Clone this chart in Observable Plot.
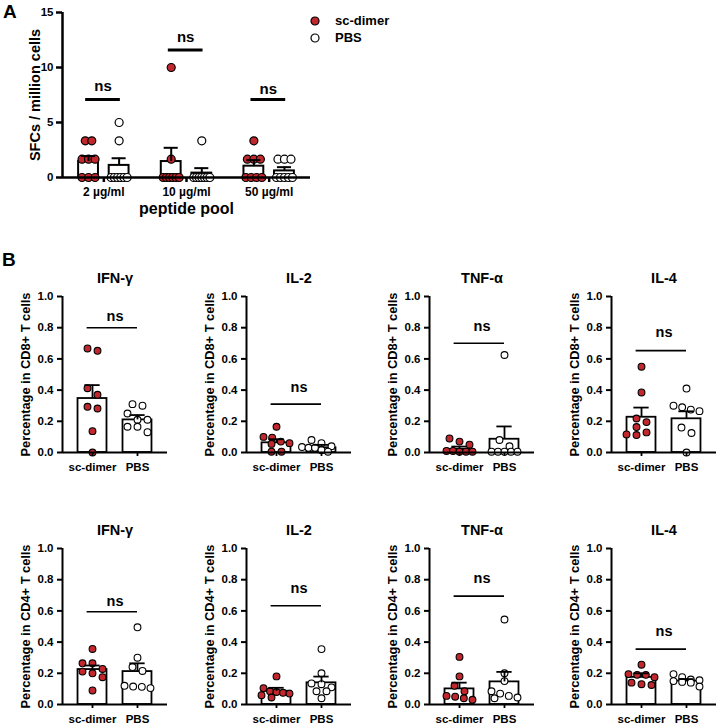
<!DOCTYPE html>
<html><head><meta charset="utf-8">
<script src="https://cdn.jsdelivr.net/npm/d3@7"></script>
<script src="https://cdn.jsdelivr.net/npm/@observablehq/plot@0.6"></script>
<style>
body{margin:0;background:#fff;}
#root{position:relative;width:719px;height:725px;overflow:hidden;font-family:"Liberation Sans",Arial,Helvetica,sans-serif;font-weight:bold;color:#000;}
.abs{position:absolute;}
svg{overflow:visible;}
</style></head><body><div id="root"></div>
<script>
// ---------- Panel A data ----------
const doses = ["2 µg/ml", "10 µg/ml", "50 µg/ml"];
const groups = ["sc-dimer", "PBS"];
const sfcScDimer = [[3.33,3.33,1.67,1.67,1.67,0,0,0],[10,1.67,0,0,0,0,0,0],[3.33,1.67,1.67,1.67,0,0,0,0]];
const sfcPbs = [[5,3.33,0,0,0,0,0,0],[3.33,0,0,0,0,0,0,0],[1.67,1.67,1.67,0,0,0,0,0]];
const sfcMeanSc = [1.45, 1.45, 1.03];
const sfcSemSc = [0.5, 1.25, 0.55];
const sfcMeanPbs = [1.1, 0.4, 0.6];
const sfcSemPbs = [0.65, 0.45, 0.34];
const sfcNs = [7.1, 11.6, 7.1];
const sfcNsLabel = [8.3, 12.8, 8.0];
const sfcTicks = [0, 5, 10, 15];

// ---------- Panel B data ----------
const cytokines = ["IFN-γ", "IL-2", "TNF-α", "IL-4"];
const cellTypes = ["CD8+", "CD4+"];
const pctTicks = [0, 0.2, 0.4, 0.6, 0.8, 1.0];
const cd8Sc = [
  [0.667,0.652,0.412,0.37,0.293,0.282,0.137,0.0],
  [0.165,0.1,0.095,0.07,0.06,0.055,0.005,0.005],
  [0.09,0.07,0.05,0.01,0.01,0.005,0.005,0.005],
  [0.55,0.385,0.218,0.195,0.163,0.129,0.116,0.112]
];
const cd8Pbs = [
  [0.31,0.30,0.25,0.21,0.21,0.165,0.165,0.13],
  [0.08,0.06,0.04,0.035,0.03,0.03,0.015,0.005],
  [0.625,0.08,0.04,0.005,0.005,0.005,0.005,0.005],
  [0.41,0.30,0.29,0.275,0.265,0.16,0.125,0.0]
];
const cd8MeanSc = [0.346, 0.062, 0.02, 0.226];
const cd8SemSc = [0.086, 0.023, 0.018, 0.062];
const cd8MeanPbs = [0.209, 0.03, 0.085, 0.216];
const cd8SemPbs = [0.031, 0.019, 0.082, 0.048];
const cd8Ns = [0.80, 0.31, 0.70, 0.653];
const cd8NsLabel = [0.87, 0.42, 0.81, 0.767];

const cd4Sc = [
  [0.356,0.264,0.264,0.228,0.211,0.2,0.175,0.09],
  [0.18,0.105,0.085,0.08,0.075,0.07,0.06,0.045],
  [0.305,0.18,0.12,0.085,0.055,0.05,0.04,0.03],
  [0.255,0.195,0.19,0.19,0.175,0.14,0.13,0.125]
];
const cd4Pbs = [
  [0.495,0.3,0.24,0.215,0.12,0.115,0.113,0.105],
  [0.355,0.2,0.135,0.13,0.11,0.085,0.085,0.04],
  [0.545,0.2,0.15,0.085,0.07,0.055,0.045,0.04],
  [0.195,0.175,0.16,0.155,0.15,0.145,0.14,0.115]
];
const cd4MeanSc = [0.224, 0.085, 0.1, 0.174];
const cd4SemSc = [0.026, 0.022, 0.04, 0.026];
const cd4MeanPbs = [0.211, 0.139, 0.145, 0.15];
const cd4SemPbs = [0.053, 0.04, 0.064, 0.013];
const cd4Ns = [0.595, 0.633, 0.695, 0.355];
const cd4NsLabel = [0.661, 0.746, 0.808, 0.469];

// ---------- helpers ----------
const FONT = '"Liberation Sans", Arial, Helvetica, sans-serif';
const RED = "#c1272d";
const root = document.getElementById("root");

function place(el, left, top) {
  el.classList.add("abs");
  el.style.left = left + "px";
  el.style.top = top + "px";
  root.appendChild(el);
}

// GraphPad-like scatter layout: rows of similar values spread symmetrically
function swarm(values, pyu, pxu, r, spacing, maxSpan) {
  const idx = values.map((v, i) => i).sort((a, b) => values[b] - values[a]);
  const rows = [];
  for (const i of idx) {
    const y = values[i] * pyu;
    const row = rows[rows.length - 1];
    if (row && Math.abs(row.y0 - y) < 2 * r) row.items.push(i);
    else rows.push({ y0: y, items: [i] });
  }
  const placed = [];
  const off = new Array(values.length);
  for (const row of rows) {
    const n = row.items.length;
    const sp = n > 1 ? Math.min(spacing, maxSpan / (n - 1)) : spacing;
    let shift = 0;
    for (const s of [0, sp / 2, -sp / 2, sp, -sp]) {
      const ok = row.items.every((i, j) => {
        const x = (j - (n - 1) / 2) * sp + s, y = values[i] * pyu;
        return placed.every(p => Math.hypot(p.x - x, p.y - y) >= 2 * r * 0.85);
      });
      if (ok) { shift = s; break; }
    }
    row.items.forEach((i, j) => {
      const x = (j - (n - 1) / 2) * sp + shift;
      off[i] = x / pxu;
      placed.push({ x, y: values[i] * pyu });
    });
  }
  return off;
}

// ---------- Panel A ----------
(function panelA() {
  const pyu = 165 / 15, pxu = 248 / 3, r = 4, sub = 0.185, hw = 0.12, cw = 0.085;
  const pts = [], bars = [];
  doses.forEach((d, g) => {
    const oS = swarm(sfcScDimer[g], pyu, pxu, r, 6.5, 16);
    const oP = swarm(sfcPbs[g], pyu, pxu, r, 6.5, 16);
    sfcScDimer[g].forEach((v, k) => pts.push({ x: g - sub + oS[k], v, grp: 0 }));
    sfcPbs[g].forEach((v, k) => pts.push({ x: g + sub + oP[k], v, grp: 1 }));
    bars.push({ x: g - sub, m: sfcMeanSc[g], s: sfcSemSc[g] });
    bars.push({ x: g + sub, m: sfcMeanPbs[g], s: sfcSemPbs[g] });
  });
  const sig = doses.map((d, g) => ({ g, y: sfcNs[g], ly: sfcNsLabel[g] }));
  const p = Plot.plot({
    width: 320, height: 225,
    marginLeft: 62, marginRight: 10, marginTop: 12, marginBottom: 48,
    x: { domain: [-0.5, 2.5], axis: null },
    y: { domain: [0, 15], axis: null },
    style: { fontFamily: FONT, fontWeight: "bold", background: "transparent", color: "black", overflow: "visible" },
    marks: [
      Plot.rectY(bars, { x1: d => d.x - hw, x2: d => d.x + hw, y: "m", fill: "white", stroke: "black", strokeWidth: 2 }),
      Plot.dot(pts, { x: "x", y: "v", r: 4, fill: d => d.grp === 0 ? RED : "white", stroke: "black", strokeWidth: 1.2 }),
      Plot.ruleX(bars, { x: "x", y1: "m", y2: d => d.m + d.s, strokeWidth: 2 }),
      Plot.ruleY(bars, { y: d => d.m + d.s, x1: d => d.x - cw, x2: d => d.x + cw, strokeWidth: 2 }),
      Plot.ruleY([0], { strokeWidth: 2.5 }),
      Plot.ruleX([-0.5], { y1: 0, y2: 15, strokeWidth: 2.5 }),
      Plot.axisY({ ticks: sfcTicks, tickSize: 6, tickPadding: 3, fontSize: 11.5, fontWeight: "bold", strokeWidth: 2.5, label: null }),
      Plot.axisX({ ticks: [0, 1, 2], tickFormat: i => doses[i], tickSize: 5, tickPadding: 5, fontSize: 12, fontWeight: "bold", strokeWidth: 2.5, label: null }),
      Plot.ruleY(sig, { y: "y", x1: d => d.g - 0.22, x2: d => d.g + 0.2, strokeWidth: 3 }),
      Plot.text(sig, { x: d => d.g - 0.01, y: "ly", text: () => "ns", fontSize: 15, fontWeight: "bold" }),
      Plot.text(["SFCs / million cells"], { frameAnchor: "left", textAnchor: "middle", rotate: -90, dx: -27, fontSize: 14.5, fontWeight: "bold" }),
      Plot.text(["peptide pool"], { frameAnchor: "bottom", dy: 36, fontSize: 16, fontWeight: "bold" })
    ]
  });
  place(p, 0, 0);

  // legend
  const leg = document.createElement("div");
  leg.style.fontSize = "13px";
  leg.style.lineHeight = "17px";
  groups.forEach((g, i) => {
    const row = document.createElement("div");
    row.style.display = "flex";
    row.style.alignItems = "center";
    row.style.height = "17px";
    row.innerHTML = `<svg width="12" height="12" style="margin-right:14px"><circle cx="6" cy="6" r="4" fill="${i === 0 ? RED : "white"}" stroke="black" stroke-width="1.2"/></svg><span>${g}</span>`;
    leg.appendChild(row);
  });
  place(leg, 309, 12);

  const A = document.createElement("div");
  A.textContent = "A"; A.style.fontSize = "19px"; A.style.lineHeight = "19px";
  place(A, 3, 2);
  const B = document.createElement("div");
  B.textContent = "B"; B.style.fontSize = "19px"; B.style.lineHeight = "19px";
  place(B, 2, 250);
})();

// ---------- Panel B ----------
function smallPlot(title, cell, sc, pbs, mSc, sSc, mPbs, sPbs, ns, nsL) {
  const pyu = 156, pxu = 45, r = 3.4, hw = 0.322, cw = 0.17;
  const oS = swarm(sc, pyu, pxu, r, 10, 26);
  const oP = swarm(pbs, pyu, pxu, r, 10, 26);
  const pts = [
    ...sc.map((v, k) => ({ x: 0 + oS[k], v, grp: 0 })),
    ...pbs.map((v, k) => ({ x: 1 + oP[k], v, grp: 1 }))
  ];
  const bars = [{ x: 0, m: mSc, s: sSc }, { x: 1, m: mPbs, s: sPbs }];
  return Plot.plot({
    width: 180, height: 214,
    marginLeft: 62, marginRight: 13, marginTop: 38, marginBottom: 20,
    x: { domain: [-0.667, 1.667], axis: null },
    y: { domain: [0, 1], axis: null },
    style: { fontFamily: FONT, fontWeight: "bold", background: "transparent", color: "black", overflow: "visible" },
    marks: [
      Plot.rectY(bars, { x1: d => d.x - hw, x2: d => d.x + hw, y: "m", fill: "white", stroke: "black", strokeWidth: 1.8 }),
      Plot.dot(pts, { x: "x", y: "v", r, fill: d => d.grp === 0 ? RED : "white", stroke: "black", strokeWidth: 1.1 }),
      Plot.ruleX(bars, { x: "x", y1: "m", y2: d => d.m + d.s, strokeWidth: 1.8 }),
      Plot.ruleY(bars, { y: d => d.m + d.s, x1: d => d.x - cw, x2: d => d.x + cw, strokeWidth: 1.8 }),
      Plot.ruleY([0], { strokeWidth: 2 }),
      Plot.ruleX([-0.667], { y1: 0, y2: 1, strokeWidth: 2 }),
      Plot.axisY({ ticks: pctTicks, tickFormat: d3.format(".1f"), tickSize: 5, tickPadding: 4, fontSize: 11.5, fontWeight: "bold", strokeWidth: 2, label: null }),
      Plot.axisX({ ticks: [0, 1], tickFormat: i => groups[i], tickSize: 4, tickPadding: 6, fontSize: 11.5, fontWeight: "bold", strokeWidth: 1.8, label: null }),
      Plot.ruleY([ns], { y: d => d, x1: -0.12, x2: 1.0, strokeWidth: 1.6 }),
      Plot.text([nsL], { x: 0.5, y: d => d, text: () => "ns", fontSize: 14.5, fontWeight: "bold" }),
      Plot.text([title], { frameAnchor: "top", dy: -24, fontSize: 14.5, fontWeight: "bold" }),
      Plot.text([`Percentage in ${cell} T cells`], { frameAnchor: "left", textAnchor: "middle", rotate: -90, dx: -37, fontSize: 12.8, fontWeight: "bold" })
    ]
  });
}

const colLeft = [0, 184, 367, 549];
const rowTop = [258, 510];
const sets = [
  [cd8Sc, cd8Pbs, cd8MeanSc, cd8SemSc, cd8MeanPbs, cd8SemPbs, cd8Ns, cd8NsLabel],
  [cd4Sc, cd4Pbs, cd4MeanSc, cd4SemSc, cd4MeanPbs, cd4SemPbs, cd4Ns, cd4NsLabel]
];
cellTypes.forEach((cell, ri) => {
  const [sc, pbs, mSc, sSc, mP, sP, ns, nsL] = sets[ri];
  cytokines.forEach((c, ci) => {
    const p = smallPlot(c, cell, sc[ci], pbs[ci], mSc[ci], sSc[ci], mP[ci], sP[ci], ns[ci], nsL[ci]);
    place(p, colLeft[ci], rowTop[ri]);
  });
});
</script></body></html>
